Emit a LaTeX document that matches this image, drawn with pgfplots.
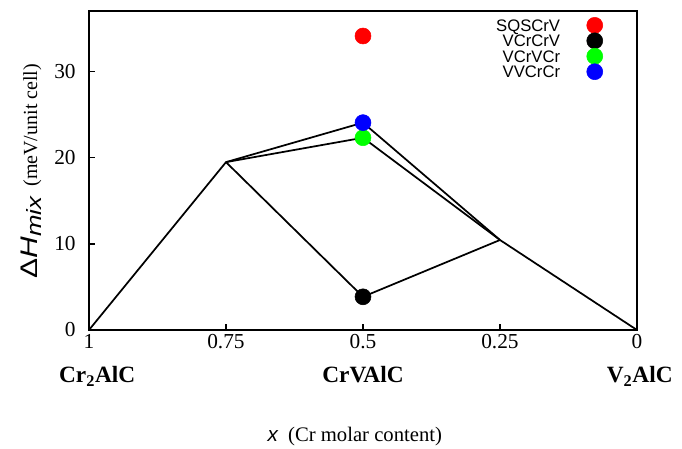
\documentclass[border=0pt]{standalone}
\usepackage{fontspec}
\setmainfont{Liberation Serif}
\setsansfont{Liberation Sans}
\usepackage{graphicx}
\usepackage{pgfplots}
\pgfplotsset{compat=1.18}
\usetikzlibrary{calc}

\begin{document}
\begin{tikzpicture}
\begin{axis}[
  scale only axis, width=411pt, height=239.25pt,
  xmin=0, xmax=1, ymin=0, ymax=37, x dir=reverse,
  xtick={0,0.25,0.5,0.75,1}, xticklabels={0,0.25,0.5,0.75,1},
  ytick={0,10,20,30},
  xtick pos=bottom, ytick pos=left, tick align=inside,
  major tick length=4.5pt,
  axis line style={line width=1.2pt, black},
  tick style={line width=1.1pt, black},
  /pgf/number format/assume math mode=true,
  ticklabel style={font=\fontsize{16}{18}\selectfont},
  yticklabel style={xshift=-6.5pt},
  clip=false,
  legend plot pos=right,
  legend cell align=right,
  legend image code/.code={\draw[#1] plot coordinates {(0pt,0pt)};},
  legend style={draw=none, fill=none, inner sep=0pt,
    at={(axis description cs:0.938,0.981)}, anchor=north east,
    font=\sffamily\fontsize{12.5}{14}\selectfont,
    nodes={inner sep=0pt, text height=9pt, text depth=0pt},
    column sep=20pt, row sep=-0.4pt},
]
\addplot[black, line width=1.3pt, forget plot] coordinates {(1,0) (0.75,19.47) (0.5,24.05) (0.25,10.44) (0,0)};
\addplot[black, line width=1.3pt, forget plot] coordinates {(0.75,19.47) (0.5,22.3) (0.25,10.44)};
\addplot[black, line width=1.3pt, forget plot] coordinates {(0.75,19.47) (0.5,3.85) (0.25,10.44)};

\addplot[only marks, mark=*, mark size=6pt, color=red] coordinates {(0.5,34.1)};
\addlegendentry{SQSCrV}
\addplot[only marks, mark=*, mark size=6pt, color=black] coordinates {(0.5,3.85)};
\addlegendentry{VCrCrV}
\addplot[only marks, mark=*, mark size=6pt, color=green] coordinates {(0.5,22.3)};
\addlegendentry{VCrVCr}
\addplot[only marks, mark=*, mark size=6pt, color=blue] coordinates {(0.5,24.05)};
\addlegendentry{VVCrCr}

\node[anchor=base, font=\bfseries\fontsize{17.5}{20}\selectfont] at (axis description cs:0.015,-0.166) {Cr\textsubscript{2}AlC};
\node[anchor=base, font=\bfseries\fontsize{17.5}{20}\selectfont] at (axis description cs:0.5,-0.166) {CrVAlC};
\node[anchor=base, font=\bfseries\fontsize{17.5}{20}\selectfont] at (axis description cs:1.005,-0.166) {V\textsubscript{2}AlC};

\node[anchor=base, font=\fontsize{15.5}{18}\selectfont] at (axis description cs:0.485,-0.351) {{\sffamily\itshape x}~~(Cr molar content)};
\node[rotate=90, anchor=center, font=\fontsize{15}{18}\selectfont] at (axis description cs:-0.106,0.498) {\scalebox{1.25}[1]{\sffamily\fontsize{18}{20}\selectfont\upshape Δ\textit{H}}\raisebox{-0.2em}{\scalebox{1.25}[1]{\sffamily\fontsize{15.5}{18}\selectfont\itshape mix}}~~(meV/unit cell)};
\end{axis}
\pgfresetboundingbox
\path[use as bounding box] ($(current axis.south west)+(-66.75pt,-89.25pt)$) rectangle ($(current axis.north east)+(33.75pt,8.25pt)$);
\end{tikzpicture}
\end{document}
